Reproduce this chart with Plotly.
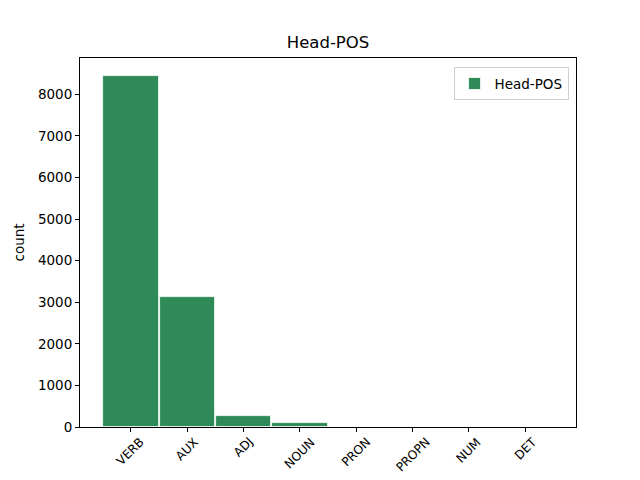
import plotly.graph_objects as go

categories = ["VERB", "AUX", "ADJ", "NOUN", "PRON", "PROPN", "NUM", "DET"]
counts = [8430, 3130, 270, 100, 3, 2, 1, 1]
y_ticks = [0, 1000, 2000, 3000, 4000, 5000, 6000, 7000, 8000]
positions = list(range(len(categories)))

fig = go.Figure()
fig.add_trace(
    go.Bar(
        x=positions,
        y=counts,
        width=0.98,
        marker=dict(color="#2e8b57", line=dict(color="#ffffff", width=0.8)),
        name="Head-POS",
        showlegend=True,
    )
)

axis_common = dict(
    showline=True,
    linecolor="black",
    linewidth=1,
    mirror=True,
    ticks="outside",
    ticklen=4,
    tickcolor="black",
    showgrid=False,
    zeroline=False,
    automargin=False,
    tickfont=dict(size=13.5, color="black"),
)

# rotated category labels, centred under each tick like matplotlib does
for pos, cat in zip(positions, categories):
    fig.add_annotation(
        x=pos,
        y=0,
        xref="x",
        yref="paper",
        text=cat,
        showarrow=False,
        textangle=-45,
        xanchor="center",
        yanchor="top",
        yshift=-5,
        font=dict(size=12.2, color="black"),
    )

# page body has an 8px margin, so the figure margins are offset by it
fig.update_layout(
    width=640,
    height=480,
    margin=dict(l=72, r=72, t=50, b=61),
    paper_bgcolor="white",
    plot_bgcolor="white",
    font=dict(family="DejaVu Sans", color="black"),
    title=dict(text="Head-POS", x=0.5, xanchor="center", y=0.928, yanchor="middle", font=dict(size=16.5)),
    xaxis=dict(
        **axis_common,
        range=[-0.905, 7.9],
        tickmode="array",
        tickvals=positions,
        showticklabels=False,
    ),
    yaxis=dict(
        **axis_common,
        range=[0, 8870],
        tickmode="array",
        tickvals=y_ticks,
        title=dict(text="count", font=dict(size=13.5), standoff=10),
    ),
    legend=dict(
        x=0.985,
        y=0.975,
        xanchor="right",
        yanchor="top",
        bordercolor="#d0d0d0",
        borderwidth=1,
        font=dict(size=13.5),
    ),
    bargap=0,
)

fig.write_html("out.html")
